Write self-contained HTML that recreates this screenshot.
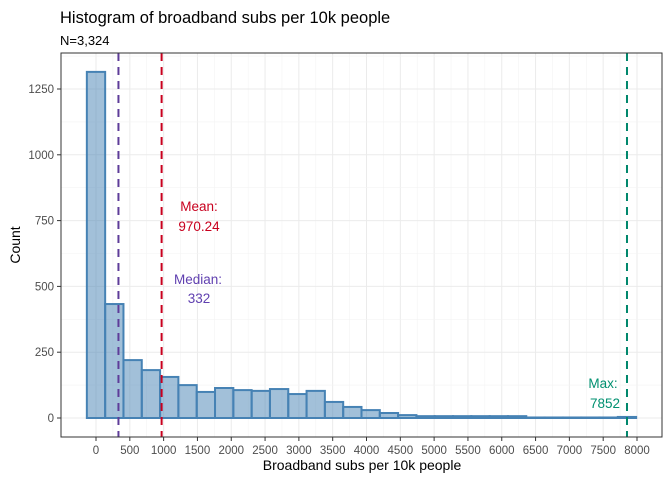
<!DOCTYPE html>
<html><head><meta charset="utf-8"><style>
body{margin:0;background:#fff;font-family:"Liberation Sans",Arial,sans-serif}
svg text{font-family:"Liberation Sans",Arial,sans-serif}
</style></head><body>
<svg id="chart" width="672" height="480" xmlns="http://www.w3.org/2000/svg">
<text x="60" y="23" font-size="16.5" fill="#000">Histogram of broadband subs per 10k people</text>
<text x="60" y="45" font-size="13" fill="#000">N=3,324</text>
<g id="grid"></g>
<g id="bars"></g>
<g id="vlines"></g>
<rect x="61" y="53" width="601" height="384" fill="none" stroke="#333" stroke-width="1"/>
<g id="axes"></g>
<text x="362" y="470" font-size="14" text-anchor="middle">Broadband subs per 10k people</text>
<text transform="translate(20,245) rotate(-90)" font-size="14" text-anchor="middle">Count</text>
<text x="199" y="211" font-size="13.5" fill="#C8001E" text-anchor="middle">Mean:</text>
<text x="199" y="231" font-size="13.5" fill="#C8001E" text-anchor="middle">970.24</text>
<text x="198" y="284" font-size="13.5" fill="#6040B0" text-anchor="middle">Median:</text>
<text x="199" y="303" font-size="13.5" fill="#6040B0" text-anchor="middle">332</text>
<text x="603" y="388" font-size="13.5" fill="#009070" text-anchor="middle">Max:</text>
<text x="605" y="408" font-size="13.5" fill="#009070" text-anchor="middle">7852</text>
</svg>
<script>
const binCenters=[0,270.8,541.5,812.3,1083,1353.8,1624.6,1895.3,2166.1,2436.8,2707.6,2978.3,3249.1,3519.9,3790.6,4061.4,4332.1,4602.9,4873.7,5144.4,5415.2,5685.9,5956.7,6227.4,6498.2,6769,7039.7,7310.5,7581.2,7852];
const counts=[1315,433,220,182,156,125,99,114,106,103,110,91,103,61,42,30,19,11,7,7,7,7,7,7,2,2,2,2,2,4];
const xTicks=[0,500,1000,1500,2000,2500,3000,3500,4000,4500,5000,5500,6000,6500,7000,7500,8000];
const yTicks=[0,250,500,750,1000,1250];
const refValues=[332,970.24,7852];
const refColors=["#5E3C99","#C8001E","#00876C"];
const refNames=["median-line","mean-line","max-line"];
const binWidth=270.76;
const NS="http://www.w3.org/2000/svg";
const X=v=>96+v*541/8000, Y=v=>418-v*329/1250;
function mk(t,a,p){const e=document.createElementNS(NS,t);for(const k in a)e.setAttribute(k,a[k]);p.appendChild(e);return e;}
const g=document.getElementById('grid'),b=document.getElementById('bars'),vl=document.getElementById('vlines'),ax=document.getElementById('axes');
for(let i=0;i<xTicks.length;i++){
 const l=mk('line',{x1:X(xTicks[i]),x2:X(xTicks[i]),y1:53,y2:437,stroke:'#ebebeb','stroke-width':1},g);
 
 if(i<xTicks.length-1){const m=(xTicks[i]+xTicks[i+1])/2;const l2=mk('line',{x1:X(m),x2:X(m),y1:53,y2:437,stroke:'#f3f3f3','stroke-width':0.6},g);
 }
 const t=mk('line',{x1:X(xTicks[i]),x2:X(xTicks[i]),y1:437,y2:441,stroke:'#333'},ax);
 
 const tx=mk('text',{x:X(xTicks[i]),y:454,'font-size':11.5,fill:'#4d4d4d','text-anchor':'middle'},ax);tx.textContent=xTicks[i];
 
}
for(let i=0;i<yTicks.length;i++){
 const l=mk('line',{x1:61,x2:662,y1:Y(yTicks[i]),y2:Y(yTicks[i]),stroke:'#ebebeb','stroke-width':1},g);
 
 const m=yTicks[i]+125;const l2=mk('line',{x1:61,x2:662,y1:Y(m),y2:Y(m),stroke:'#f3f3f3','stroke-width':0.6},g);
 
 const t=mk('line',{x1:57,x2:61,y1:Y(yTicks[i]),y2:Y(yTicks[i]),stroke:'#333'},ax);
 
 const tx=mk('text',{x:54,y:Y(yTicks[i])+4,'font-size':11.5,fill:'#4d4d4d','text-anchor':'end'},ax);tx.textContent=yTicks[i];
 
}
for(let i=0;i<counts.length;i++){
 const x0=X(binCenters[i]-binWidth/2),x1=X(binCenters[i]+binWidth/2);
 const r=mk('rect',{x:x0,y:Y(counts[i]),width:x1-x0,height:Y(0)-Y(counts[i]),fill:'rgba(70,130,180,0.5)',stroke:'#4682B4','stroke-width':2},b);
 
}
for(let i=0;i<refValues.length;i++){
 const l=mk('line',{x1:X(refValues[i]),x2:X(refValues[i]),y1:53,y2:437,stroke:refColors[i],'stroke-width':2,'stroke-dasharray':'8 6'},vl);
 
}
</script>
</body></html>
